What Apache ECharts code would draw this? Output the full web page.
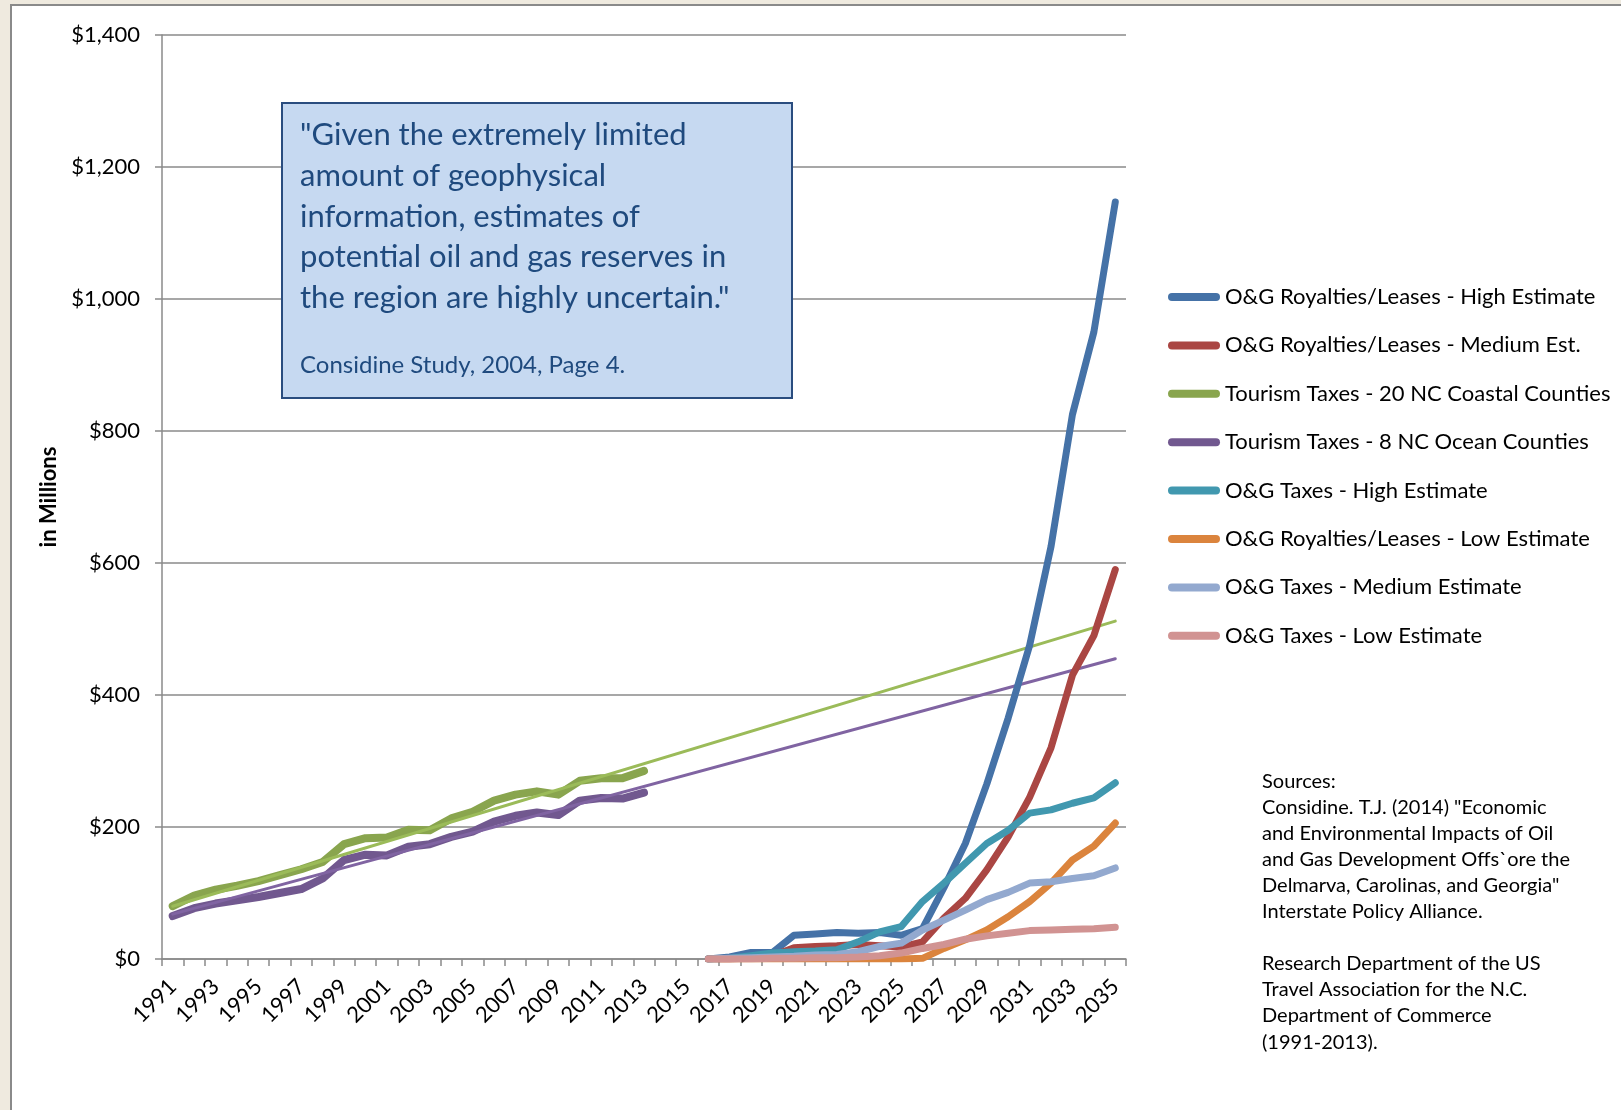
<!DOCTYPE html>
<html><head><meta charset="utf-8">
<script src="https://cdn.jsdelivr.net/npm/echarts@6/dist/echarts.min.js"></script>
<style>
html,body{margin:0;padding:0;background:#efeadf;width:1621px;height:1110px;overflow:hidden}
#panel{position:absolute;left:10px;top:4px;width:1611px;height:1106px;background:#fff;border-left:2px solid #8a8a8a;border-top:2px solid #8a8a8a}
#chart{position:absolute;left:0;top:0;width:1621px;height:1110px}
</style></head><body><div id="panel"></div><div id="chart"></div>
<script>
const years = ['1991','1992','1993','1994','1995','1996','1997','1998','1999','2000','2001','2002','2003','2004','2005','2006','2007','2008','2009','2010','2011','2012','2013','2014','2015','2016','2017','2018','2019','2020','2021','2022','2023','2024','2025','2026','2027','2028','2029','2030','2031','2032','2033','2034','2035'];
const tourismYears = years.slice(0, 23);   // 1991-2013
const ogYears = years.slice(25);           // 2016-2035
const trendYears = ['1991', '2035'];

const coastal20 = [80,96,105,111,118,127,136,147,174,183,184,196,195,213,223,240,249,254,249,270,274,274,285];
const ocean8    = [65,77,84,89,94,100,106,122,150,158,157,170,174,185,193,208,217,222,218,240,244,243,252];
const coastal20Trend = [80, 512];
const ocean8Trend    = [68, 455];

const royHigh = [0,3,10,10,36,38,40,39,40,36,46,108,175,265,365,475,625,825,950,1147];
const royMed  = [0,0,2,5,17,19,20,22,20,18,26,62,92,135,185,245,320,430,490,590];
const taxHigh = [0,1,5,9,11,12,14,26,41,49,87,115,145,175,195,221,226,236,244,267];
const royLow  = [0,0,0,0,0,0,0,0,0,0,1,16,29,44,64,87,115,150,171,206];
const taxMed  = [0,1,2,3,4,6,7,11,19,24,44,59,74,90,101,115,117,122,126,138];
const taxLow  = [0,0,0,1,1,2,2,3,5,9,16,22,30,35,39,43,44,45,46,48];

const yTicks = [0,200,400,600,800,1000,1200,1400];

const names = [
  'O&G Royalties/Leases - High Estimate',
  'O&G Royalties/Leases - Medium Est.',
  'Tourism Taxes - 20 NC Coastal Counties',
  'Tourism Taxes - 8 NC Ocean Counties',
  'O&G Taxes - High Estimate',
  'O&G Royalties/Leases - Low Estimate',
  'O&G Taxes - Medium Estimate',
  'O&G Taxes - Low Estimate'
];
const colors = ['#4572a7','#aa4643','#89a54e','#71588f','#4198af','#db843d','#93a9cf','#d19392'];

const quoteLines = [
  '"Given the extremely limited',
  'amount of geophysical',
  'information, estimates of',
  'potential oil and gas reserves in',
  'the region are highly uncertain."'
];
const quoteSource = 'Considine Study, 2004, Page 4.';
const sourcesLines = [
  'Sources:',
  'Considine. T.J. (2014) "Economic',
  'and Environmental Impacts of Oil',
  'and Gas Development Offs`ore the',
  'Delmarva, Carolinas, and Georgia"',
  'Interstate Policy Alliance.',
  '',
  'Research Department of the US',
  'Travel Association for the N.C.',
  'Department of Commerce',
  '(1991-2013).'
];

const FONT = 'Lato';
function pairs(xs, vs) { return xs.map((x, i) => [x, vs[i]]); }
function mkLine(name, color, xs, vs, z, width) {
  return {
    name: name, type: 'line', z: z,
    data: pairs(xs, vs),
    showSymbol: false, symbol: 'none', silent: true,
    itemStyle: { color: color },
    lineStyle: { color: color, width: width || 7, cap: 'round', join: 'round' },
    animation: false
  };
}

const chart = echarts.init(document.getElementById('chart'), null, { renderer: 'canvas' });
const series = [
  mkLine(names[2], colors[2], tourismYears, coastal20, 2, 8),
  mkLine(names[3], colors[3], tourismYears, ocean8, 2, 8),
  mkLine('coastalTrend', '#9bbb59', trendYears, coastal20Trend, 3, 3),
  mkLine('oceanTrend', '#8064a2', trendYears, ocean8Trend, 3, 3),
  mkLine(names[0], colors[0], ogYears, royHigh, 4),
  mkLine(names[1], colors[1], ogYears, royMed, 4),
  mkLine(names[4], colors[4], ogYears, taxHigh, 4),
  mkLine(names[5], colors[5], ogYears, royLow, 4),
  mkLine(names[6], colors[6], ogYears, taxMed, 4),
  mkLine(names[7], colors[7], ogYears, taxLow, 4)
];

const graphics = [
  {
    type: 'rect', z: 10,
    shape: { x: 282, y: 103, width: 510, height: 295 },
    style: { fill: '#c6d9f1', stroke: '#2a4d7f', lineWidth: 2 }
  },
  {
    type: 'text', z: 11, left: 300, top: 115,
    style: { text: quoteLines.join('\n'), font: '31px ' + FONT, lineHeight: 40.6, fill: '#1f4a7e' }
  },
  {
    type: 'text', z: 11, left: 300, top: 353,
    style: { text: quoteSource, font: '24px ' + FONT, fill: '#1f4a7e' }
  },
  {
    type: 'text', z: 11, left: 1262, top: 768,
    style: { text: sourcesLines.join('\n'), font: '20px ' + FONT, lineHeight: 26.1, fill: '#000' }
  }
];

chart.setOption({
  animation: false,
  backgroundColor: 'transparent',
  textStyle: { fontFamily: FONT },
  grid: { left: 162, right: 495, top: 35, bottom: 151, containLabel: false },
  legend: {
    data: names.map((n, i) => ({ name: n, itemStyle: { color: colors[i] } })),
    orient: 'vertical', left: 1163, top: 280,
    itemWidth: 52, itemHeight: 8, itemGap: 24.4,
    icon: 'path://M4,0 L48,0 A4,4 0 0 1 48,8 L4,8 A4,4 0 0 1 4,0 Z',
    textStyle: { fontSize: 22, color: '#000', fontFamily: FONT, lineHeight: 24 },
    selectedMode: false
  },
  xAxis: {
    type: 'category', data: years, boundaryGap: true,
    axisLine: { lineStyle: { color: '#8a8a8a', width: 1.5 } },
    axisTick: { show: true, interval: 0, length: 7, lineStyle: { color: '#8a8a8a', width: 1.5 } },
    axisLabel: { interval: 1, rotate: 45, fontSize: 22, color: '#000', fontFamily: FONT, margin: 24 },
    splitLine: { show: false }
  },
  yAxis: {
    type: 'value', min: 0, max: 1400, interval: 200,
    name: 'in Millions', nameLocation: 'middle', nameGap: 97,
    nameTextStyle: { fontSize: 22, fontWeight: 'bold', color: '#000', fontFamily: FONT },
    axisLine: { show: true, lineStyle: { color: '#8a8a8a', width: 1.5 } },
    axisTick: { show: true, length: 7, lineStyle: { color: '#8a8a8a', width: 1.5 } },
    axisLabel: {
      fontSize: 22, color: '#000', fontFamily: FONT, margin: 22,
      formatter: v => yTicks.indexOf(v) >= 0 ? '$' + v.toLocaleString('en-US') : ''
    },
    splitLine: { show: true, lineStyle: { color: '#8a8a8a', width: 1.5 } }
  },
  series: series,
  graphic: graphics
});
</script></body></html>
